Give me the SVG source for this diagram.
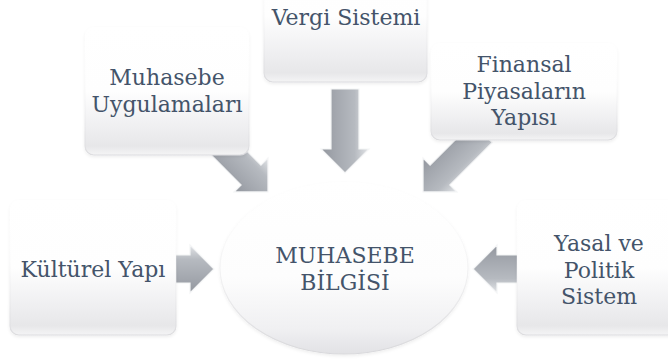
<svg xmlns="http://www.w3.org/2000/svg" width="668" height="361" viewBox="0 0 668 361">
<defs>
<linearGradient id="boxg" x1="0" y1="0" x2="0" y2="1">
<stop offset="0" stop-color="#ffffff"/>
<stop offset="0.5" stop-color="#fefefe"/>
<stop offset="0.8" stop-color="#eeeef0"/>
<stop offset="0.93" stop-color="#e7e7e9"/>
<stop offset="1" stop-color="#f4f4f5"/>
</linearGradient>
<linearGradient id="boxs" x1="0" y1="0" x2="0" y2="1">
<stop offset="0" stop-color="#ffffff" stop-opacity="0"/>
<stop offset="0.45" stop-color="#f2f2f3" stop-opacity="0.3"/>
<stop offset="1" stop-color="#dcdcdf"/>
</linearGradient>
<linearGradient id="ellg" x1="0" y1="0" x2="0" y2="1">
<stop offset="0" stop-color="#ffffff"/>
<stop offset="0.55" stop-color="#fdfdfd"/>
<stop offset="0.85" stop-color="#f0f0f2"/>
<stop offset="1" stop-color="#e2e2e5"/>
</linearGradient>
<linearGradient id="ells" x1="0" y1="0" x2="0" y2="1">
<stop offset="0" stop-color="#ffffff" stop-opacity="0"/>
<stop offset="0.4" stop-color="#eeeeef" stop-opacity="0.4"/>
<stop offset="1" stop-color="#d8d8db"/>
</linearGradient>
<linearGradient id="arrg" x1="0" y1="0" x2="0" y2="1">
<stop offset="0" stop-color="#e3e5e8"/>
<stop offset="0.3" stop-color="#b6bac0"/>
<stop offset="0.7" stop-color="#a3a7ae"/>
<stop offset="1" stop-color="#92969e"/>
</linearGradient>
<filter id="sh" x="-10%" y="-10%" width="120%" height="125%">
<feDropShadow dx="0" dy="1.5" stdDeviation="1.5" flood-color="#000" flood-opacity="0.07"/>
</filter>
<path id="arr" d="M0,-14 L-60,-14 L-60,14 L0,14 L0,24 L24,0 L0,-24 Z"/>
</defs>
<style>
.box{fill:url(#boxg);stroke:url(#boxs);stroke-width:1.2;filter:url(#sh)}
.ell{fill:url(#ellg);stroke:url(#ells);stroke-width:1.2;filter:url(#sh)}
.a{fill:url(#arrg);stroke:#f4f5f6;stroke-width:1.2}
.t{font-size:22px;fill:#44546A;text-anchor:middle}
</style>
<g id="connectors">
<use href="#arr" class="a" transform="translate(190,269)"/>
<use href="#arr" class="a" transform="translate(497,269) rotate(180)"/>
<use href="#arr" class="a" transform="translate(345,149) rotate(90)"/>
<use href="#arr" class="a" transform="translate(251,175) rotate(45)"/>
<use href="#arr" class="a" transform="translate(440,175) rotate(135)"/>
</g>
<g id="center" font-family="DejaVu Serif">
<ellipse class="ell" cx="344" cy="268" rx="124" ry="86"/>
<text class="t" x="345" y="263">MUHASEBE</text>
<text class="t" x="345" y="290">BİLGİSİ</text>
</g>
<g id="vergi" font-family="DejaVu Serif">
<rect class="box" x="264" y="-50" width="163" height="132" rx="9"/>
<text class="t" x="346" y="25">Vergi Sistemi</text>
</g>
<g id="muhasebe" font-family="DejaVu Serif">
<rect class="box" x="85" y="27" width="164" height="128" rx="9"/>
<text class="t" x="167" y="85">Muhasebe</text>
<text class="t" x="167" y="112">Uygulamaları</text>
</g>
<g id="finansal" font-family="DejaVu Serif">
<rect class="box" x="431" y="43" width="186" height="97" rx="9"/>
<text class="t" x="524" y="72">Finansal</text>
<text class="t" x="524" y="98.5">Piyasaların</text>
<text class="t" x="524" y="125">Yapısı</text>
</g>
<g id="kulturel" font-family="DejaVu Serif">
<rect class="box" x="10" y="200" width="166" height="135" rx="9"/>
<text class="t" x="93" y="277">Kültürel Yapı</text>
</g>
<g id="yasal" font-family="DejaVu Serif">
<rect class="box" x="517" y="200" width="164" height="135" rx="9"/>
<text class="t" x="599" y="251">Yasal ve</text>
<text class="t" x="599" y="277.5">Politik</text>
<text class="t" x="599" y="304">Sistem</text>
</g>
</svg>
